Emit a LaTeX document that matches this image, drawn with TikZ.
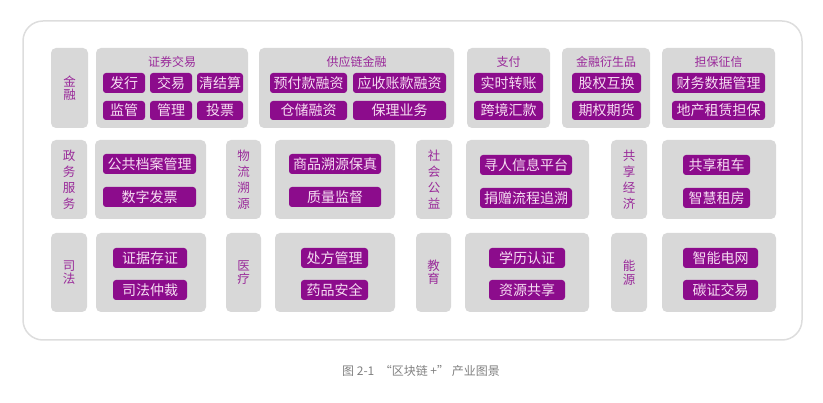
\documentclass[tikz,border=0pt]{standalone}
\usepackage{fontspec}
\newfontfamily\cjk{Noto Sans CJK SC}
\definecolor{pur}{HTML}{8C0C8C}
\definecolor{labpur}{HTML}{9A2A9A}
\definecolor{btntext}{HTML}{F6DDF2}
\definecolor{boxgray}{HTML}{D8D8D8}
\definecolor{framegray}{HTML}{DDDDDD}
\definecolor{capgray}{HTML}{808080}
\newcommand\bx[7]{\node[#2,minimum width={(#5)-(#3)},minimum height={(#6)-(#4)}] (#1) at ({((#3)+(#5))/2},{((#4)+(#6))/2}) {#7};}
\begin{document}
\begin{tikzpicture}[x=1pt,y=-1pt,
  gbox/.style={fill=boxgray,rounded corners=5pt,inner sep=0pt},
  btn/.style={fill=pur,rounded corners=3pt,inner sep=0pt,text=btntext,font=\cjk\fontsize{14}{16}\selectfont},
  labtwo/.style={gbox,text=labpur,align=center,font=\cjk\fontsize{12.5}{13.5}\selectfont},
  labfour/.style={gbox,text=labpur,align=center,font=\cjk\fontsize{12.5}{16}\selectfont},
  hdr/.style={text=labpur,inner sep=0pt,font=\cjk\fontsize{12}{14}\selectfont}]
\useasboundingbox (0,0) rectangle (823,403);
\draw[framegray,line width=1.5pt,rounded corners=20pt] (23,21) rectangle (802,340);
% Row 1
\bx{l1}{labtwo}{51}{48}{88}{128}{金\\融}
\bx{g11}{gbox}{96}{48}{248}{128}{}
\bx{g12}{gbox}{259}{48}{454}{128}{}
\bx{g13}{gbox}{467}{48}{550}{128}{}
\bx{g14}{gbox}{562}{48}{650}{128}{}
\bx{g15}{gbox}{662}{48}{775}{128}{}
\node[hdr] (h11) at (172,62) {证券交易};
\node[hdr] (h12) at (356.5,62) {供应链金融};
\node[hdr] (h13) at (508.5,62) {支付};
\node[hdr] (h14) at (606,62) {金融衍生品};
\node[hdr] (h15) at (718.5,62) {担保征信};
\bx{b1}{btn}{103}{73}{145}{93}{发行}
\bx{b2}{btn}{150}{73}{192}{93}{交易}
\bx{b3}{btn}{197}{73}{243}{93}{清结算}
\bx{b4}{btn}{103}{101}{145}{120}{监管}
\bx{b5}{btn}{150}{101}{192}{120}{管理}
\bx{b6}{btn}{197}{101}{243}{120}{投票}
\bx{b7}{btn}{270}{73}{347}{93}{预付款融资}
\bx{b8}{btn}{353}{73}{446}{93}{应收账款融资}
\bx{b9}{btn}{270}{101}{347}{120}{仓储融资}
\bx{b10}{btn}{353}{101}{446}{120}{保理业务}
\bx{b11}{btn}{474}{73}{543}{93}{实时转账}
\bx{b12}{btn}{474}{101}{543}{120}{跨境汇款}
\bx{b13}{btn}{572}{73}{641}{93}{股权互换}
\bx{b14}{btn}{572}{101}{641}{120}{期权期货}
\bx{b15}{btn}{672}{73}{765}{93}{财务数据管理}
\bx{b16}{btn}{672}{101}{765}{120}{地产租赁担保}
% Row 2
\bx{l21}{labfour}{51}{140}{87}{219}{政\\务\\服\\务}
\bx{g21}{gbox}{95}{140}{206}{219}{}
\bx{l22}{labfour}{226}{140}{261}{219}{物\\流\\溯\\源}
\bx{g22}{gbox}{275}{140}{395}{219}{}
\bx{l23}{labfour}{416}{140}{452}{219}{社\\会\\公\\益}
\bx{g23}{gbox}{466}{140}{589}{219}{}
\bx{l24}{labfour}{611}{140}{647}{219}{共\\享\\经\\济}
\bx{g24}{gbox}{662}{140}{776}{219}{}
\bx{c1}{btn}{103}{154}{196}{174}{公共档案管理}
\bx{c2}{btn}{103}{187}{196}{207}{数字发票}
\bx{c3}{btn}{289}{154}{381}{174}{商品溯源保真}
\bx{c4}{btn}{289}{187}{381}{207}{质量监督}
\bx{c5}{btn}{480}{155}{572}{175}{寻人信息平台}
\bx{c6}{btn}{480}{188}{572}{208}{捐赠流程追溯}
\bx{c7}{btn}{683}{155}{750}{175}{共享租车}
\bx{c8}{btn}{683}{188}{750}{208}{智慧租房}
% Row 3
\bx{l31}{labtwo}{51}{233}{87}{312}{司\\法}
\bx{g31}{gbox}{96}{233}{206}{312}{}
\bx{l32}{labtwo}{226}{233}{261}{312}{医\\疗}
\bx{g32}{gbox}{275}{233}{395}{312}{}
\bx{l33}{labtwo}{416}{233}{451}{312}{教\\育}
\bx{g33}{gbox}{465}{233}{589}{312}{}
\bx{l34}{labtwo}{611}{233}{647}{312}{能\\源}
\bx{g34}{gbox}{662}{233}{776}{312}{}
\bx{d1}{btn}{113}{248}{187}{268}{证据存证}
\bx{d2}{btn}{113}{280}{187}{300}{司法仲裁}
\bx{d3}{btn}{301}{248}{368}{268}{处方管理}
\bx{d4}{btn}{301}{280}{368}{300}{药品安全}
\bx{d5}{btn}{489}{248}{565}{268}{学历认证}
\bx{d6}{btn}{489}{280}{565}{300}{资源共享}
\bx{d7}{btn}{683}{248}{758}{268}{智能电网}
\bx{d8}{btn}{683}{280}{758}{300}{碳证交易}
% Caption
\node[text=capgray,font=\cjk\fontsize{12}{14}\selectfont] (cap) at (421,371) {图 2-1 \ “区块链 +”\ 产业图景};
\end{tikzpicture}
\end{document}
